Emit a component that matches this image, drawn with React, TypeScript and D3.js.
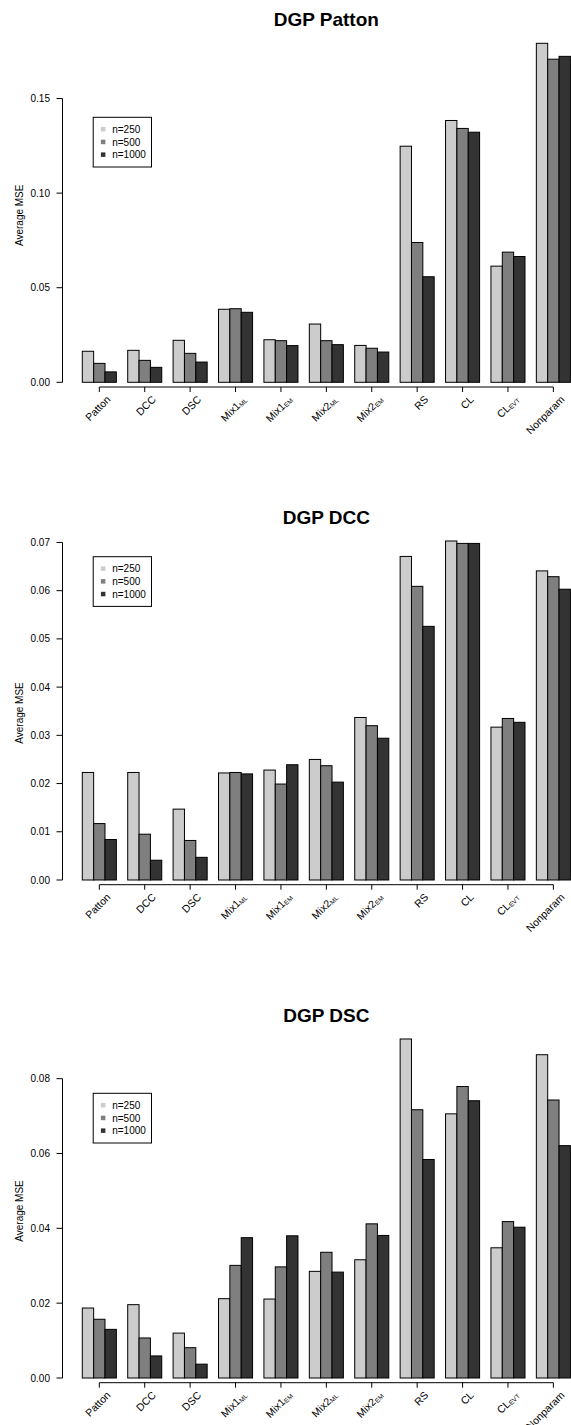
import React from "react";
import * as d3 from "d3";

// categories along the x axis (name + subscript)
const methods = ["Patton", "DCC", "DSC", "Mix1", "Mix1", "Mix2", "Mix2", "RS", "CL", "CL", "Nonparam"];
const methodSubs = ["", "", "", "ML", "EM", "ML", "EM", "", "", "EVT", ""];
const sampleSizes = ["n=250", "n=500", "n=1000"];
const barColors = ["#cccccc", "#7f7f7f", "#333333"];

// DGP Patton
const pattonN250 = [0.0164, 0.0169, 0.0222, 0.0386, 0.0225, 0.0308, 0.0195, 0.1248, 0.1384, 0.0614, 0.1792];
const pattonN500 = [0.0100, 0.0116, 0.0153, 0.0389, 0.0220, 0.0220, 0.0180, 0.0739, 0.1342, 0.0688, 0.1708];
const pattonN1000 = [0.0055, 0.0079, 0.0107, 0.0370, 0.0194, 0.0199, 0.0160, 0.0558, 0.1322, 0.0665, 0.1723];
const pattonTicks = [0, 0.05, 0.1, 0.15];

// DGP DCC
const dccN250 = [0.0223, 0.0223, 0.0147, 0.0222, 0.0228, 0.0250, 0.0337, 0.0671, 0.0703, 0.0317, 0.0641];
const dccN500 = [0.0117, 0.0095, 0.0082, 0.0223, 0.0199, 0.0237, 0.0320, 0.0609, 0.0698, 0.0335, 0.0629];
const dccN1000 = [0.0084, 0.0041, 0.0047, 0.0220, 0.0239, 0.0203, 0.0294, 0.0526, 0.0698, 0.0327, 0.0603];
const dccTicks = [0, 0.01, 0.02, 0.03, 0.04, 0.05, 0.06, 0.07];

// DGP DSC
const dscN250 = [0.0187, 0.0196, 0.0120, 0.0212, 0.0211, 0.0285, 0.0316, 0.0906, 0.0706, 0.0348, 0.0864];
const dscN500 = [0.0157, 0.0107, 0.0081, 0.0301, 0.0297, 0.0336, 0.0412, 0.0717, 0.0779, 0.0418, 0.0743];
const dscN1000 = [0.0130, 0.0059, 0.0037, 0.0375, 0.0380, 0.0283, 0.0381, 0.0584, 0.0741, 0.0403, 0.0621];
const dscTicks = [0, 0.02, 0.04, 0.06, 0.08];

const panels = [
  { title: "DGP Patton", series: [pattonN250, pattonN500, pattonN1000], ticks: pattonTicks, zeroY: 382.3, legendTop: 117.3 },
  { title: "DGP DCC", series: [dccN250, dccN500, dccN1000], ticks: dccTicks, zeroY: 880, legendTop: 556.7 },
  { title: "DGP DSC", series: [dscN250, dscN500, dscN1000], ticks: dscTicks, zeroY: 1378, legendTop: 1093.3 },
];

const W = 571;
const H = 1425;
const FONT = "'Liberation Sans', Arial, Helvetica, sans-serif";
const plotH = 339;
const axisX = 62.5;

// R barplot units: group g covers [1+4g, 4+4g], one empty unit between groups
const x = d3.scaleLinear().domain([1, 44]).range([82.3, 570.4]);

const Panel = ({ p }) => {
  const maxV = d3.max(p.series.flat());
  const y = d3.scaleLinear().domain([0, maxV]).range([p.zeroY, p.zeroY - plotH]);
  const lastTick = p.ticks[p.ticks.length - 1];
  const axisY = p.zeroY + 4.7;

  return (
    <g>
      <text x={326.3} y={p.zeroY - 363} textAnchor="middle" dominantBaseline="central"
        fontWeight="bold" fontSize={19} fontFamily={FONT}>{p.title}</text>

      {/* bars */}
      {p.series.map((vals, j) =>
        vals.map((v, g) => (
          <rect key={`${j}-${g}`} x={x(1 + 4 * g + j)} y={y(v)}
            width={x(2) - x(1)} height={y(0) - y(v)}
            fill={barColors[j]} stroke="#000" strokeWidth={1} />
        ))
      )}

      {/* y axis */}
      <line x1={axisX} x2={axisX} y1={y(0)} y2={y(lastTick)} stroke="#000" strokeWidth={1} />
      {p.ticks.map((t) => (
        <g key={t}>
          <line x1={axisX - 6} x2={axisX} y1={y(t)} y2={y(t)} stroke="#000" strokeWidth={1} />
          <text x={axisX - 12.5} y={y(t)} textAnchor="end" dominantBaseline="central"
            fontSize={10} fontFamily={FONT}>{d3.format(".2f")(t)}</text>
        </g>
      ))}
      <text transform={`translate(19.5,${p.zeroY - 167}) rotate(-90)`} textAnchor="middle"
        dominantBaseline="central" fontSize={10} fontFamily={FONT}>Average MSE</text>

      {/* x axis */}
      <line x1={x(2.5)} x2={x(42.5)} y1={axisY} y2={axisY} stroke="#000" strokeWidth={1} />
      {methods.map((m, g) => {
        const cx = x(2.5 + 4 * g);
        return (
          <g key={g}>
            <line x1={cx} x2={cx} y1={axisY} y2={axisY + 5} stroke="#000" strokeWidth={1} />
            <text transform={`translate(${cx + 9},${p.zeroY + 15}) rotate(-45)`} textAnchor="end"
              dominantBaseline="central" fontSize={10.5} fontFamily={FONT}>
              {m}
              {methodSubs[g] && <tspan fontSize={6.5} dy={2}>{methodSubs[g]}</tspan>}
            </text>
          </g>
        );
      })}

      {/* legend */}
      <rect x={93.2} y={p.legendTop} width={58.3} height={49.7} fill="#fff" stroke="#000" strokeWidth={1} />
      {sampleSizes.map((s, j) => {
        const ry = p.legendTop + 12 + j * 12.7;
        return (
          <g key={s}>
            <rect x={100.9} y={ry - 2.3} width={4.5} height={4.5} fill={barColors[j]} />
            <text x={112.2} y={ry} dominantBaseline="central" fontSize={10} fontFamily={FONT}>{s}</text>
          </g>
        );
      })}
    </g>
  );
};

export default function App() {
  return (
    <svg width={W} height={H} viewBox={`0 0 ${W} ${H}`}
      style={{ position: "absolute", left: 0, top: 0, background: "#fff" }}>
      <rect width={W} height={H} fill="#fff" />
      {panels.map((p) => <Panel key={p.title} p={p} />)}
    </svg>
  );
}
